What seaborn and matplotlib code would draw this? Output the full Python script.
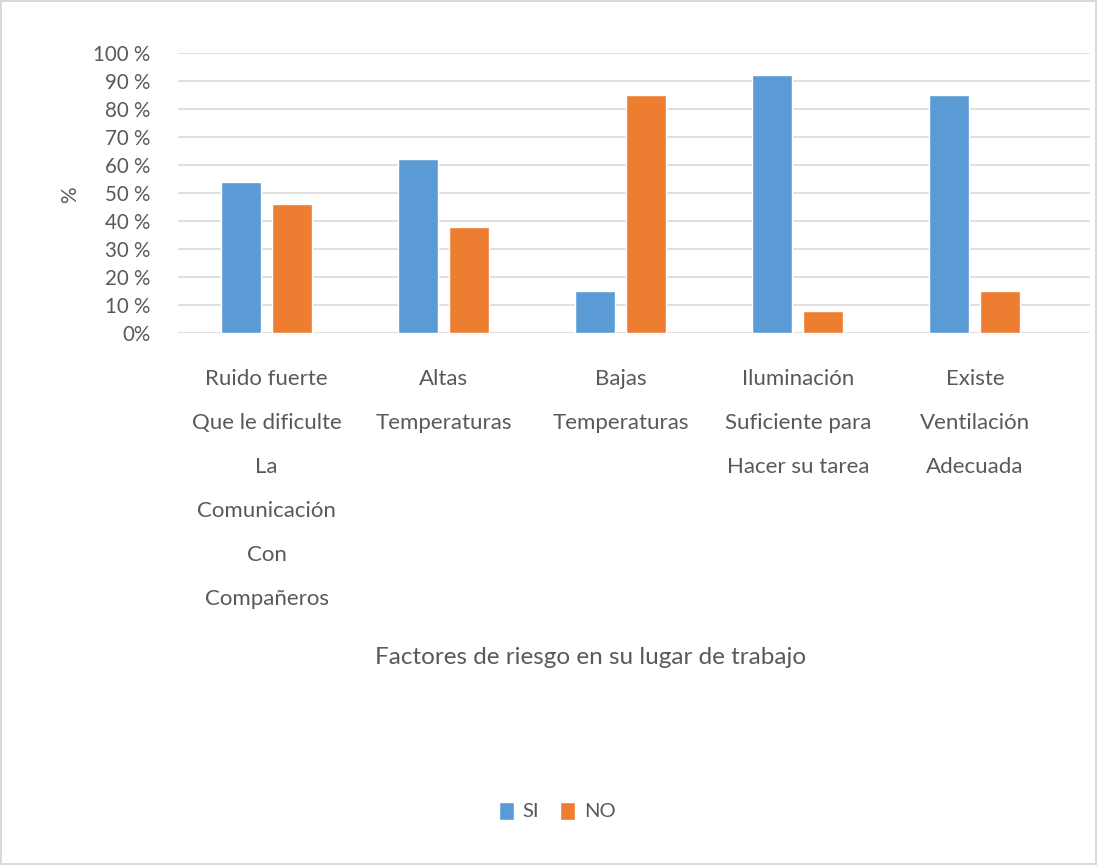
import matplotlib
matplotlib.use("Agg")
import matplotlib.pyplot as plt
import seaborn as sns
import pandas as pd
from matplotlib.patches import Patch

categories = ["Ruido fuerte\nQue le dificulte\nLa\nComunicación\nCon\nCompañeros",
              "Altas\nTemperaturas",
              "Bajas\nTemperaturas",
              "Iluminación\nSuficiente para\nHacer su tarea",
              "Existe\nVentilación\nAdecuada"]
si_values = [54, 62, 15, 92, 85]
no_values = [46, 38, 85, 8, 15]
series = ["SI", "NO"]
yticks = [0, 10, 20, 30, 40, 50, 60, 70, 80, 90, 100]
ytick_labels = ["0%"] + [f"{v} %" for v in yticks[1:]]

df = pd.DataFrame({
    "cat": categories * 2,
    "serie": ["SI"] * len(categories) + ["NO"] * len(categories),
    "val": si_values + no_values,
})

sns.set_theme(style="white")
plt.rcParams["font.family"] = ["Lato", "DejaVu Sans"]
txt = "#595959"

fig = plt.figure(figsize=(10.97, 8.65), dpi=100)
fig.patch.set_facecolor("white")
fig.patch.set_edgecolor("#D9D9D9")
fig.patch.set_linewidth(1.5)
ax = fig.add_axes([178/1097, 1-333/865, (1090-178)/1097, (333-53)/865])

palette = {"SI": "#5B9BD5", "NO": "#ED7D31"}
sns.barplot(data=df, x="cat", y="val", hue="serie", hue_order=series,
            palette=palette, width=0.576, gap=0.216, ax=ax, legend=False,
            saturation=1, errorbar=None, zorder=3)

ax.set_ylim(0, 100)
ax.set_xlim(-0.5, 4.65)
ax.set_yticks(yticks)
ax.set_yticklabels(ytick_labels, fontsize=14.8, color=txt)
ax.set_xticks(range(len(categories)))
ax.set_xticklabels(categories, fontsize=16, color=txt, linespacing=2.5, va="top")
ax.tick_params(axis="x", length=0, pad=26)
ax.tick_params(axis="y", length=0, pad=20)
ax.yaxis.grid(True, color="#D9D9D9", linewidth=1.2, zorder=0)
ax.set_axisbelow(True)
for s in ax.spines.values():
    s.set_visible(False)
ax.set_xlabel("")
ax.set_ylabel("")

fig.text(70/1097, 1-195/865, "%", rotation=90, fontsize=15, color=txt,
         ha="center", va="center")
fig.text(591/1097, 1-658/865, "Factores de riesgo en su lugar de trabajo",
         fontsize=17.5, color=txt, ha="center", va="center")

handles = [Patch(facecolor=palette[s], label=s) for s in series]
leg = fig.legend(handles=handles, loc="center", bbox_to_anchor=(557/1097, 1-811/865),
                 ncol=2, frameon=False, fontsize=14.5, handlelength=0.75, handleheight=1.0,
                 handletextpad=0.45, columnspacing=1.0)
for t in leg.get_texts():
    t.set_color(txt)

fig.savefig("out.png", dpi=100, facecolor=fig.get_facecolor(), edgecolor=fig.get_edgecolor())
